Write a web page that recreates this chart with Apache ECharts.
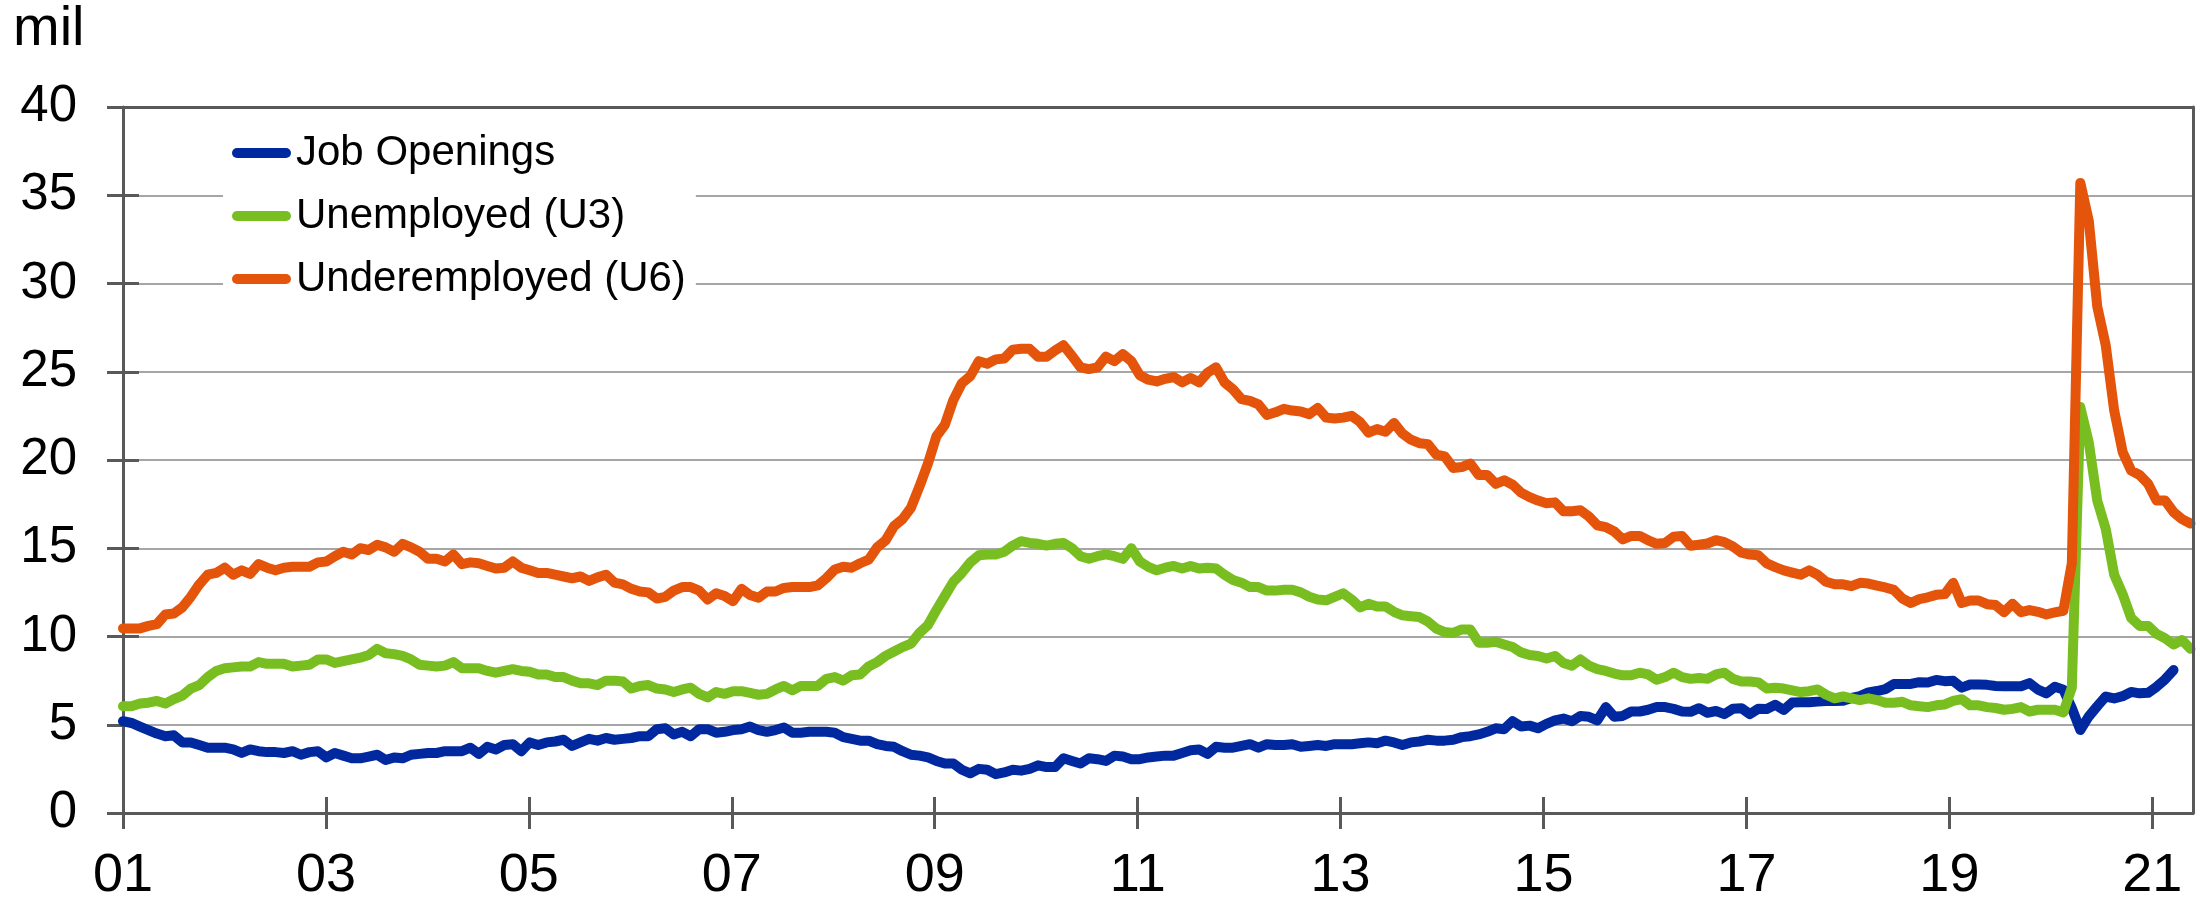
<!DOCTYPE html>
<html>
<head>
<meta charset="utf-8">
<script src="https://cdn.jsdelivr.net/npm/echarts@6/dist/echarts.min.js"></script>
<style>
html,body{margin:0;padding:0;background:#fff;}
#chart{width:2197px;height:903px;}
</style>
</head>
<body>
<div id="chart"></div>
<script>
// Monthly data, Jan 2001 (index 0) to May 2021 (index 244), millions
const seriesNames = ['Job Openings', 'Unemployed (U3)', 'Underemployed (U6)'];
const xTickLabels = ['01','03','05','07','09','11','13','15','17','19','21'];

const jobOpenings = [
5.2,5.1,4.9,4.7,4.5,4.35,4.4,4.0,4.0,3.85,3.7,3.7,
3.7,3.6,3.4,3.6,3.5,3.45,3.45,3.4,3.5,3.3,3.45,3.5,
3.15,3.4,3.25,3.1,3.1,3.2,3.3,3.0,3.15,3.1,3.3,3.35,
3.4,3.4,3.5,3.5,3.5,3.7,3.35,3.75,3.6,3.85,3.9,3.5,
4.0,3.85,4.0,4.05,4.15,3.8,4.0,4.2,4.1,4.25,4.15,4.2,
4.25,4.35,4.35,4.75,4.8,4.45,4.6,4.35,4.75,4.75,4.55,4.6,
4.7,4.75,4.9,4.7,4.6,4.7,4.85,4.55,4.55,4.6,4.6,4.6,
4.55,4.3,4.2,4.1,4.1,3.9,3.8,3.75,3.5,3.3,3.25,3.15,
2.95,2.8,2.8,2.45,2.25,2.5,2.45,2.2,2.3,2.45,2.4,2.5,
2.7,2.6,2.6,3.1,2.95,2.8,3.1,3.05,2.95,3.25,3.2,3.05,
3.05,3.15,3.2,3.25,3.25,3.4,3.55,3.6,3.35,3.75,3.7,3.7,
3.8,3.9,3.7,3.9,3.85,3.85,3.9,3.75,3.8,3.85,3.8,3.9,
3.9,3.9,3.95,4.0,3.95,4.1,4.0,3.85,4.0,4.05,4.15,4.1,
4.1,4.15,4.3,4.35,4.45,4.6,4.8,4.75,5.2,4.9,4.95,4.8,
5.05,5.25,5.35,5.2,5.5,5.45,5.25,6.0,5.45,5.5,5.75,5.75,
5.85,6.0,6.0,5.9,5.75,5.73,5.94,5.68,5.78,5.6,5.91,5.94,
5.6,5.91,5.89,6.13,5.84,6.26,6.28,6.28,6.31,6.34,6.34,6.36,
6.52,6.62,6.83,6.91,7.02,7.31,7.31,7.31,7.41,7.39,7.54,7.47,
7.49,7.1,7.28,7.28,7.26,7.2,7.18,7.18,7.18,7.36,6.99,6.78,
7.15,6.99,5.94,4.7,5.47,6.05,6.6,6.49,6.62,6.86,6.78,6.81,
7.15,7.57,8.1
];

const unemployedU3 = [
6.05,6.05,6.2,6.25,6.35,6.2,6.45,6.65,7.05,7.25,7.7,8.05,
8.2,8.25,8.3,8.3,8.55,8.45,8.45,8.45,8.3,8.35,8.4,8.7,
8.7,8.5,8.6,8.7,8.8,8.95,9.3,9.05,9.0,8.9,8.7,8.4,
8.35,8.3,8.35,8.55,8.2,8.2,8.2,8.05,7.95,8.05,8.15,8.05,
8.0,7.85,7.85,7.7,7.7,7.5,7.35,7.35,7.25,7.5,7.5,7.45,
7.05,7.2,7.25,7.05,7.0,6.85,7.0,7.1,6.75,6.55,6.85,6.75,
6.9,6.9,6.8,6.7,6.75,7.0,7.2,6.95,7.2,7.2,7.2,7.6,
7.7,7.5,7.8,7.85,8.3,8.55,8.9,9.15,9.4,9.6,10.2,10.65,
11.5,12.3,13.1,13.6,14.2,14.6,14.65,14.65,14.8,15.15,15.4,15.3,
15.25,15.15,15.25,15.3,15.0,14.55,14.4,14.55,14.65,14.55,14.4,15.0,
14.25,13.95,13.75,13.9,14.0,13.85,14.0,13.85,13.9,13.85,13.5,13.2,
13.05,12.8,12.8,12.6,12.6,12.65,12.65,12.5,12.25,12.1,12.05,12.25,
12.45,12.1,11.65,11.85,11.7,11.7,11.4,11.2,11.15,11.1,10.85,10.45,
10.25,10.2,10.4,10.4,9.65,9.65,9.7,9.55,9.4,9.1,8.95,8.9,
8.75,8.9,8.5,8.35,8.7,8.35,8.15,8.05,7.9,7.8,7.8,7.95,
7.85,7.55,7.7,7.95,7.7,7.6,7.65,7.6,7.85,7.95,7.6,7.45,
7.45,7.4,7.05,7.1,7.05,6.95,6.85,6.9,7.0,6.7,6.5,6.6,
6.5,6.4,6.5,6.4,6.25,6.25,6.3,6.1,6.05,6.0,6.1,6.15,
6.35,6.45,6.1,6.1,6.0,5.95,5.85,5.9,6.0,5.75,5.85,5.85,
5.85,5.7,7.1,23.0,21.0,17.7,16.1,13.5,12.4,11.05,10.6,10.6,
10.15,9.9,9.55,9.8,9.3
];

const underemployedU6 = [
10.46,10.46,10.46,10.6,10.7,11.25,11.3,11.65,12.25,12.95,13.5,13.6,
13.9,13.5,13.75,13.55,14.1,13.9,13.75,13.9,13.95,13.95,13.95,14.2,
14.25,14.55,14.8,14.65,15.0,14.9,15.2,15.05,14.8,15.25,15.05,14.8,
14.4,14.4,14.25,14.65,14.1,14.2,14.15,14.0,13.85,13.9,14.25,13.9,
13.75,13.6,13.6,13.5,13.4,13.3,13.4,13.15,13.35,13.5,13.05,12.95,
12.7,12.55,12.5,12.15,12.25,12.6,12.8,12.8,12.6,12.1,12.45,12.3,
12.0,12.7,12.35,12.2,12.55,12.55,12.75,12.8,12.8,12.8,12.9,13.3,
13.8,13.95,13.9,14.15,14.35,15.05,15.45,16.25,16.65,17.3,18.5,19.8,
21.35,22.0,23.4,24.35,24.75,25.6,25.45,25.7,25.75,26.25,26.3,26.3,
25.85,25.85,26.2,26.5,25.9,25.25,25.15,25.25,25.85,25.6,26.0,25.6,
24.8,24.55,24.45,24.6,24.7,24.4,24.65,24.4,24.95,25.25,24.4,24.0,
23.45,23.35,23.15,22.55,22.7,22.9,22.8,22.75,22.6,22.95,22.4,22.35,
22.4,22.5,22.15,21.55,21.75,21.6,22.1,21.5,21.15,20.95,20.9,20.3,
20.2,19.55,19.6,19.8,19.15,19.15,18.65,18.85,18.6,18.15,17.9,17.7,
17.55,17.6,17.1,17.1,17.15,16.8,16.3,16.2,15.95,15.5,15.7,15.7,
15.45,15.25,15.3,15.65,15.7,15.14,15.2,15.27,15.46,15.35,15.1,14.75,
14.64,14.6,14.14,13.93,13.75,13.62,13.5,13.75,13.5,13.1,12.96,12.96,
12.85,13.04,13.0,12.88,12.78,12.64,12.15,11.9,12.12,12.22,12.36,12.4,
13.04,11.9,12.04,12.04,11.83,11.78,11.38,11.86,11.38,11.5,11.4,11.25,
11.36,11.46,14.15,35.7,33.55,28.7,26.5,22.8,20.45,19.4,19.15,18.65,
17.7,17.7,17.05,16.65,16.4
];

const colors = ['#0029A0', '#78BE20', '#E4540A'];
const FONT = '"Liberation Sans", Arial, Helvetica, sans-serif';
const axisColor = '#595959';
const gridColor = '#A6A6A6';
const monthsPerTick = 23.95;
const xMax = 244.3;
const tickVals = xTickLabels.map((_, k) => k * monthsPerTick);

const capsule = 'path://M5 0H54A5 5 0 0 1 54 10H5A5 5 0 0 1 5 0Z';
const axisLineStyle = { color: axisColor, width: 3 };

function toPairs(arr) { return arr.map((v, i) => [i, v]); }

const chart = echarts.init(document.getElementById('chart'), null, { renderer: 'canvas' });
const option = {
  animation: false,
  backgroundColor: '#fff',
  title: {
    text: 'mil', left: 13, top: 2, padding: 0,
    textStyle: { fontFamily: FONT, fontSize: 56, fontWeight: 'normal', color: '#000' }
  },
  grid: { left: 123, right: 4, top: 107, bottom: 86, containLabel: false },
  legend: {
    orient: 'vertical', left: 223, top: 115,
    backgroundColor: '#fff', padding: [17, 10, 17, 9],
    itemGap: 21, itemWidth: 59, itemHeight: 10, icon: capsule,
    textStyle: { fontFamily: FONT, fontSize: 42, color: '#000' },
    data: seriesNames
  },
  xAxis: [
    {
      type: 'value', position: 'bottom', min: 0, max: xMax,
      axisLine: { show: true, onZero: false, lineStyle: axisLineStyle },
      axisTick: { show: true, length: 16, customValues: tickVals, lineStyle: axisLineStyle },
      axisLabel: {
        customValues: tickVals, margin: 36, color: '#000', fontFamily: FONT, fontSize: 54,
        formatter: (v) => xTickLabels[Math.round(v / monthsPerTick)] || ''
      },
      splitLine: { show: false }
    },
    {
      type: 'value', position: 'bottom', min: 0, max: xMax,
      axisLine: { show: false, onZero: false },
      axisTick: { show: true, inside: true, length: 16, customValues: tickVals, lineStyle: axisLineStyle },
      axisLabel: { show: false },
      splitLine: { show: false }
    },
    {
      type: 'value', position: 'top', min: 0, max: xMax, z: 5,
      axisLine: { show: true, onZero: false, lineStyle: axisLineStyle },
      axisTick: { show: false }, axisLabel: { show: false }, splitLine: { show: false }
    }
  ],
  yAxis: [
    {
      type: 'value', position: 'left', min: 0, max: 40, interval: 5,
      axisLine: { show: true, onZero: false, lineStyle: axisLineStyle },
      axisTick: { show: true, length: 16, lineStyle: axisLineStyle },
      axisLabel: { margin: 46, color: '#000', fontFamily: FONT, fontSize: 51 },
      splitLine: { show: true, lineStyle: { color: gridColor, width: 2 } }
    },
    {
      type: 'value', position: 'left', min: 0, max: 40, interval: 5,
      axisLine: { show: false, onZero: false },
      axisTick: { show: true, inside: true, length: 16, lineStyle: axisLineStyle },
      axisLabel: { show: false }, splitLine: { show: false }
    },
    {
      type: 'value', position: 'right', min: 0, max: 40, interval: 5, z: 5,
      axisLine: { show: true, onZero: false, lineStyle: axisLineStyle },
      axisTick: { show: false }, axisLabel: { show: false }, splitLine: { show: false }
    }
  ],
  series: [jobOpenings, unemployedU3, underemployedU6].map((arr, k) => ({
    type: 'line', name: seriesNames[k], data: toPairs(arr),
    xAxisIndex: 0, yAxisIndex: 0,
    symbol: 'none', showSymbol: false, smooth: false,
    lineStyle: { color: colors[k], width: 10, cap: 'round', join: 'round' },
    itemStyle: { color: colors[k] },
    emphasis: { disabled: true }
  }))
};
chart.setOption(option);
</script>
</body>
</html>
